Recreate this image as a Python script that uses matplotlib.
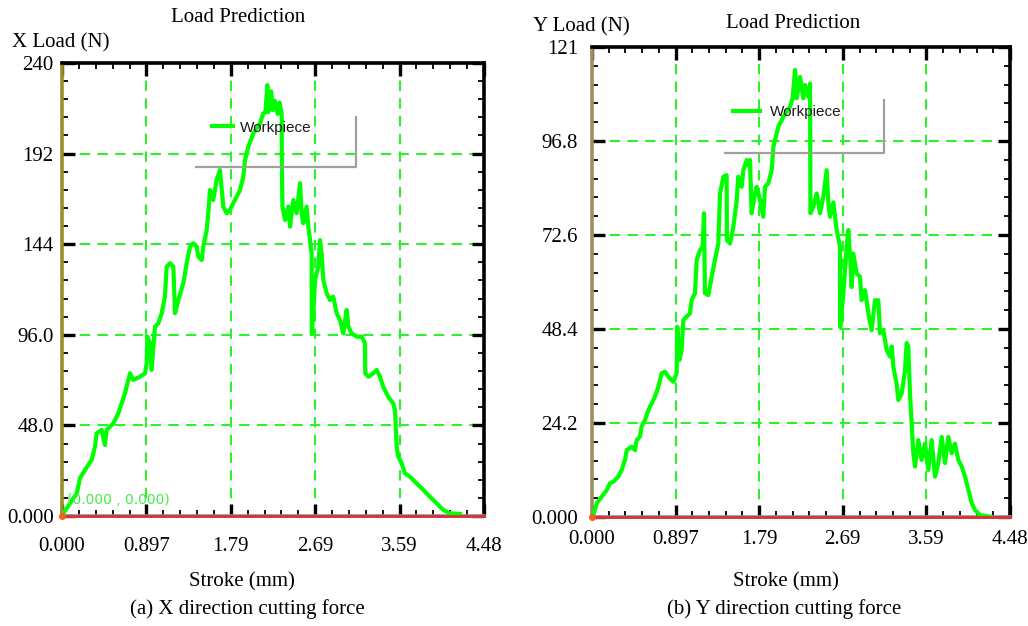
import matplotlib
matplotlib.use("Agg")
import matplotlib.pyplot as plt
from matplotlib.ticker import FixedLocator, AutoMinorLocator

# ---- data ----
stroke_x = [
    0.000, 0.014, 0.085, 0.156, 0.191, 0.244, 0.315, 0.350, 0.368, 0.421,
    0.456, 0.474, 0.510, 0.545, 0.598, 0.633, 0.669, 0.704, 0.722, 0.757,
    0.828, 0.881, 0.899, 0.906, 0.934, 0.952, 0.970, 0.987, 1.023, 1.058,
    1.093, 1.111, 1.147, 1.182, 1.200, 1.235, 1.288, 1.323, 1.359, 1.394,
    1.430, 1.447, 1.483, 1.500, 1.536, 1.553, 1.571, 1.606, 1.642, 1.677,
    1.712, 1.748, 1.783, 1.818, 1.854, 1.890, 1.925, 1.943, 1.978, 2.031,
    2.102, 2.137, 2.160, 2.180, 2.190, 2.220, 2.240, 2.260, 2.290, 2.310,
    2.332, 2.334, 2.340, 2.368, 2.403, 2.420, 2.456, 2.491, 2.527, 2.544,
    2.562, 2.597, 2.615, 2.633, 2.650, 2.652, 2.668, 2.686, 2.721, 2.739,
    2.756, 2.774, 2.810, 2.845, 2.880, 2.916, 2.951, 2.986, 3.022, 3.040,
    3.075, 3.128, 3.181, 3.217, 3.219, 3.252, 3.305, 3.340, 3.376, 3.411,
    3.464, 3.517, 3.535, 3.553, 3.570, 3.606, 3.641, 3.694, 3.765, 3.836,
    3.906, 3.977, 4.048, 4.119, 4.225,
]
load_x = [
    0.0, 1.4, 6.7, 12.0, 20.0, 24.4, 29.7, 36.7, 43.8, 45.6,
    37.6, 45.6, 47.3, 49.1, 54.4, 59.7, 65.0, 72.1, 75.6, 72.1,
    73.8, 75.6, 80.9, 95.0, 91.5, 77.4, 89.7, 100.3, 102.1, 107.4,
    116.2, 132.1, 133.9, 132.1, 107.4, 114.4, 123.3, 133.9, 142.7, 144.5,
    142.7, 137.4, 135.6, 142.7, 151.5, 160.4, 172.7, 167.4, 178.0, 183.3,
    163.9, 160.4, 162.1, 165.7, 169.2, 172.7, 179.8, 188.6, 195.7, 202.7,
    208.0, 213.3, 214.0, 228.3, 214.0, 225.0, 215.0, 220.0, 213.0, 219.0,
    213.0, 187.0, 163.9, 156.8, 163.9, 153.3, 167.4, 160.4, 176.3, 160.4,
    155.1, 163.9, 153.3, 146.2, 139.2, 96.8, 107.4, 125.0, 132.1, 146.2,
    139.2, 125.0, 118.0, 114.4, 116.2, 107.4, 103.8, 96.8, 109.2, 100.3,
    96.8, 95.0, 95.0, 91.5, 75.6, 73.8, 75.6, 77.4, 73.8, 68.4,
    63.1, 59.6, 56.1, 36.7, 31.4, 27.9, 22.6, 20.8, 17.3, 13.8,
    10.2, 6.7, 3.2, 1.4, 1.1,
]

stroke_y = [
    0.000, 0.014, 0.050, 0.104, 0.157, 0.193, 0.229, 0.282, 0.318, 0.354,
    0.372, 0.425, 0.461, 0.479, 0.514, 0.532, 0.568, 0.604, 0.640, 0.675,
    0.711, 0.747, 0.782, 0.818, 0.872, 0.907, 0.914, 0.936, 0.961, 0.979,
    1.015, 1.050, 1.068, 1.104, 1.122, 1.158, 1.186, 1.200, 1.211, 1.247,
    1.283, 1.318, 1.354, 1.372, 1.408, 1.443, 1.446, 1.479, 1.515, 1.551,
    1.568, 1.604, 1.622, 1.658, 1.686, 1.693, 1.711, 1.747, 1.765, 1.801,
    1.836, 1.854, 1.890, 1.926, 1.944, 1.961, 1.997, 2.051, 2.122, 2.150,
    2.176, 2.194, 2.230, 2.265, 2.283, 2.319, 2.337, 2.339, 2.341, 2.372,
    2.408, 2.444, 2.480, 2.515, 2.533, 2.551, 2.587, 2.622, 2.658, 2.660,
    2.694, 2.730, 2.747, 2.765, 2.783, 2.801, 2.837, 2.872, 2.890, 2.926,
    2.962, 2.997, 3.033, 3.069, 3.087, 3.122, 3.158, 3.194, 3.212, 3.230,
    3.265, 3.283, 3.319, 3.355, 3.372, 3.390, 3.408, 3.426, 3.444, 3.462,
    3.497, 3.533, 3.569, 3.605, 3.640, 3.676, 3.712, 3.748, 3.783, 3.819,
    3.855, 3.890, 3.926, 3.962, 3.998, 4.033, 4.069, 4.105, 4.158, 4.266,
]
load_y = [
    0.0, 0.5, 3.5, 5.2, 6.9, 8.7, 9.1, 10.4, 12.1, 14.7,
    17.2, 18.1, 17.2, 19.8, 20.7, 23.3, 25.0, 27.5, 29.3, 31.0,
    33.5, 37.0, 37.4, 36.1, 34.8, 37.0, 49.0, 40.4, 43.0, 50.7,
    51.6, 52.4, 55.9, 57.6, 66.2, 68.7, 69.6, 78.2, 57.6, 57.1,
    61.9, 66.2, 70.4, 83.3, 87.6, 88.0, 71.3, 70.4, 74.7, 81.6,
    87.6, 85.0, 89.3, 91.9, 90.2, 91.9, 78.2, 83.3, 85.0, 81.6,
    77.3, 85.0, 85.9, 89.3, 95.3, 97.0, 100.5, 103.0, 105.6, 107.8,
    115.1, 107.8, 113.3, 107.8, 111.2, 108.2, 111.6, 91.9, 78.2, 79.9,
    83.3, 78.2, 82.5, 89.3, 81.0, 77.3, 81.0, 73.9, 69.6, 48.9,
    57.5, 69.6, 73.9, 67.8, 59.2, 67.8, 62.7, 61.8, 55.8, 58.4,
    52.4, 48.1, 55.8, 55.8, 47.3, 48.1, 43.0, 41.3, 43.9, 38.6,
    34.3, 30.1, 31.8, 37.8, 44.8, 43.9, 31.8, 24.1, 16.4, 13.0,
    19.8, 14.7, 18.9, 12.1, 19.8, 10.4, 13.9, 20.6, 13.9, 20.6,
    16.4, 18.9, 14.7, 13.0, 10.4, 7.0, 3.6, 1.8, 0.5, 0.1,
]

x_ticks = [0.0, 0.896, 1.792, 2.688, 3.584, 4.48]
x_tick_labels = ["0.000", "0.897", "1.79", "2.69", "3.59", "4.48"]
yx_ticks = [0, 48, 96, 144, 192, 240]
yx_tick_labels = ["0.000", "48.0", "96.0", "144", "192", "240"]
yy_ticks = [0, 24.2, 48.4, 72.6, 96.8, 121]
yy_tick_labels = ["0.000", "24.2", "48.4", "72.6", "96.8", "121"]

W, H = 1028, 626
GREEN = "#00ff00"
GRID_GREEN = "#2ef02e"

plt.rcParams["font.family"] = ["Liberation Serif", "DejaVu Serif"]
fig = plt.figure(figsize=(W / 100, H / 100), dpi=100)


def fx(p):
    return p / W


def fy(p):
    return 1 - p / H


def panel(box, stroke, load, yticks, ylabels, ymax, xpad, ypad, left_col):
    l, t, r, b = box
    ax = fig.add_axes([fx(l), fy(b), fx(r - l), (b - t) / H])
    ax.plot(stroke, load, color=GREEN, lw=3.0, zorder=3)
    ax.set_xlim(0, 4.48)
    ax.set_ylim(0, ymax)

    ax.xaxis.set_major_locator(FixedLocator(x_ticks))
    ax.set_xticklabels(x_tick_labels)
    ax.yaxis.set_major_locator(FixedLocator(yticks))
    ax.set_yticklabels(ylabels)
    ax.xaxis.set_minor_locator(AutoMinorLocator(5))
    ax.yaxis.set_minor_locator(AutoMinorLocator(5))
    ax.tick_params(which="both", direction="in", top=True, right=True,
                   color="black", labelsize=15)
    ax.tick_params(which="major", length=9, width=2.4)
    ax.tick_params(which="minor", length=4, width=1.3)
    ax.tick_params(axis="x", pad=xpad)
    ax.tick_params(axis="y", pad=ypad)

    ax.grid(True, which="major", color=GRID_GREEN, ls=(0, (5, 3.5)), lw=1.5)
    for s in ax.spines.values():
        s.set_linewidth(2.6)
        s.set_color("black")
    ax.spines["left"].set_color(left_col)
    ax.spines["bottom"].set_color("#8494a4")
    ax.axhline(0, color="#e03030", lw=2.0, zorder=4, clip_on=False)
    ax.plot([0], [0], marker="o", ms=4, color="#ff5a1e", zorder=5, clip_on=False)
    return ax


def legende(ax, x0, y0, hl, gap, shadow):
    ax.legend(["Workpiece"], loc="center left", bbox_to_anchor=(x0, y0),
              frameon=False, borderpad=0, borderaxespad=0,
              handlelength=hl, handletextpad=gap,
              prop={"family": "Liberation Sans", "size": 11})
    ax.get_legend().get_texts()[0].set_color("#1a1a1a")
    ax.get_legend().set_zorder(6)
    sx0, sx1, sy0, sy1 = shadow
    ax.plot([sx1, sx1, sx0], [sy1, sy0, sy0], color="#a0a0a0", lw=1.6,
            transform=ax.transAxes, zorder=6, clip_on=False)


# (a) X direction
ax_a = panel((62, 63, 484, 516), stroke_x, load_x, yx_ticks, yx_tick_labels,
             240, 15, 6, "#a08c28")
legende(ax_a, 0.355, 0.857, 1.4, 0.45, (0.318, 0.697, 0.770, 0.881))
ax_a.text(0.012, 0.035, "(0.000 , 0.000)", transform=ax_a.transAxes,
          color="#44ee44", fontsize=10, family="DejaVu Sans",
          va="center", ha="left", zorder=5)

fig.text(fx(238), fy(18), "Load Prediction", ha="center", va="center", fontsize=15)
fig.text(fx(12), fy(43), "X Load (N)", ha="left", va="center", fontsize=15)
fig.text(fx(242), fy(582), "Stroke (mm)", ha="center", va="center", fontsize=15)
fig.text(fx(247), fy(609), "(a) X direction cutting force", ha="center",
         va="center", fontsize=15)

# (b) Y direction
ax_b = panel((592, 47, 1010, 517), stroke_y, load_y, yy_ticks, yy_tick_labels,
             121, 9, 10, "#9c9060")
legende(ax_b, 0.337, 0.862, 1.75, 0.65, (0.318, 0.699, 0.774, 0.887))

fig.text(fx(793), fy(24), "Load Prediction", ha="center", va="center", fontsize=15)
fig.text(fx(533), fy(27), "Y Load (N)", ha="left", va="center", fontsize=15)
fig.text(fx(786), fy(582), "Stroke (mm)", ha="center", va="center", fontsize=15)
fig.text(fx(784), fy(609), "(b) Y direction cutting force", ha="center",
         va="center", fontsize=15)

fig.savefig("out.png", dpi=100)
